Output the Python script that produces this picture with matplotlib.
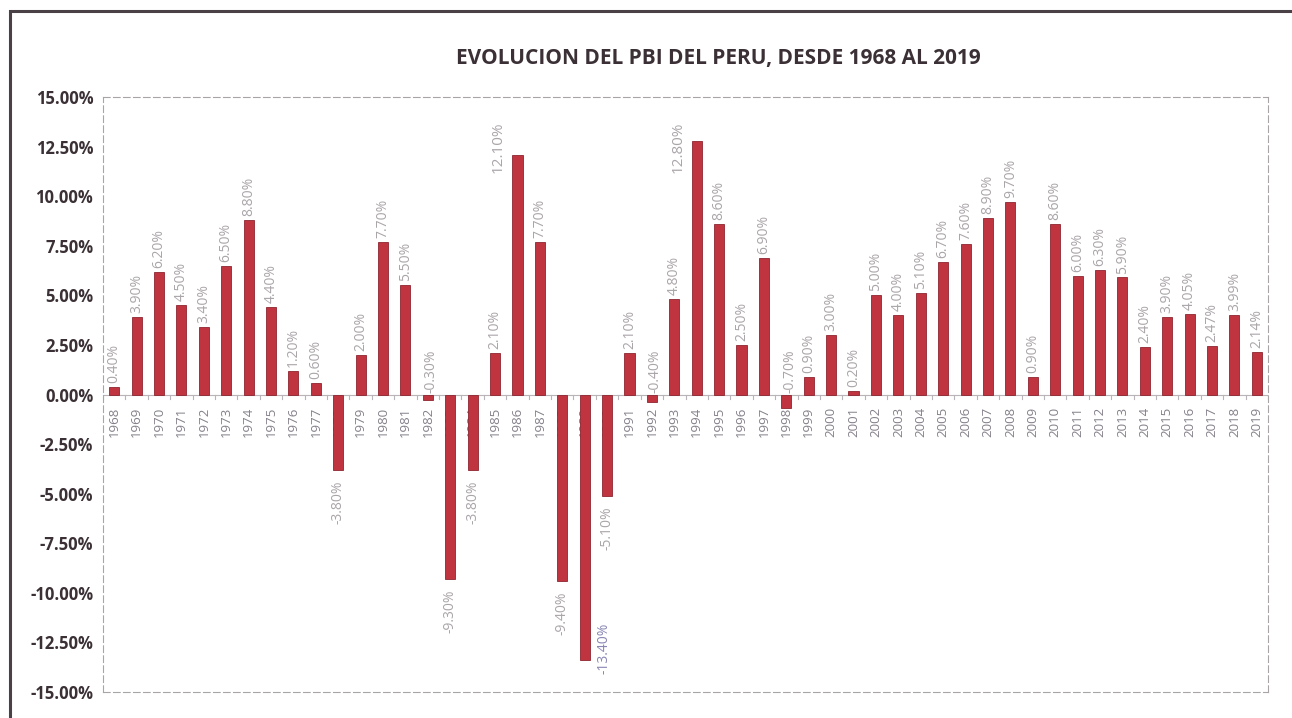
import matplotlib.pyplot as plt
import numpy as np
from matplotlib.patches import Rectangle

years = list(range(1968, 2020))
growth = [0.40, 3.90, 6.20, 4.50, 3.40, 6.50, 8.80, 4.40, 1.20, 0.60,
          -3.80, 2.00, 7.70, 5.50, -0.30, -9.30, -3.80, 2.10, 12.10, 7.70,
          -9.40, -13.40, -5.10, 2.10, -0.40, 4.80, 12.80, 8.60, 2.50, 6.90,
          -0.70, 0.90, 3.00, 0.20, 5.00, 4.00, 5.10, 6.70, 7.60, 8.90,
          9.70, 0.90, 8.60, 6.00, 6.30, 5.90, 2.40, 3.90, 4.05, 2.47,
          3.99, 2.14]
yticks = [-15, -12.5, -10, -7.5, -5, -2.5, 0, 2.5, 5, 7.5, 10, 12.5, 15]
title = "EVOLUCION DEL PBI DEL PERU, DESDE 1968 AL 2019"

plt.rcParams["font.family"] = ["Open Sans", "DejaVu Sans"]

fig = plt.figure(figsize=(12.92, 7.18), dpi=100)
fig.patches.append(Rectangle((0.008, -0.01), 1.0, 0.995, transform=fig.transFigure,
                             fill=False, edgecolor="#4a4146", linewidth=2.2))
ax = fig.add_axes([103 / 1292, 1 - 692 / 718, (1268 - 103) / 1292, (692 - 97) / 718])

x = np.arange(len(years))
ax.bar(x, growth, width=0.45, color="#c0343f", edgecolor="#8e2530", linewidth=0.6, zorder=3)

ax.set_xlim(-0.5, len(years) - 0.5)
ax.set_ylim(-15, 15)
ax.set_yticks(yticks)
ax.set_yticklabels([f"{v:.2f}%" for v in yticks], fontsize=12,
                   fontweight="bold", color="#3a3035")
ax.tick_params(axis="y", length=0, pad=7)
ax.set_xticks([])

for s in ax.spines.values():
    s.set_linestyle((0, (6, 3)))
    s.set_color("#a9a4a7")
    s.set_linewidth(0.8)

# category axis at zero
ax.axhline(0, color="#b9b4b7", linewidth=0.8, zorder=2)
for b in np.arange(-0.5, len(years), 1.0):
    ax.plot([b, b], [0, -0.25], color="#b9b4b7", linewidth=0.8, zorder=2)
for xi, yr in zip(x, years):
    ax.text(xi, -0.6, str(yr), rotation=90, ha="center", va="top",
            fontsize=9.5, color="#85808a", zorder=1)

# data labels
lab_kw = dict(rotation=90, ha="center", fontsize=10, color="#aaa5a9", zorder=4)
for xi, v in zip(x, growth):
    txt = f"{v:.2f}%"
    if v > 12:
        # tallest bars: label moved to the left of the bar, under the top edge
        ax.text(xi - 0.85, 12.45, txt, va="center", **{**lab_kw, "fontsize": 11})
    elif v >= 0:
        ax.text(xi, v + 0.2, txt, va="bottom", **lab_kw)
    elif v > -1:
        # small declines: label sits above the axis, next to the bar
        ax.text(xi + 0.15, 0.1, txt, va="bottom", **lab_kw)
    elif v < -13:
        # deepest decline: label beside the bar so it stays inside the plot
        ax.text(xi + 0.85, v + 0.6, txt, va="center",
                **{**lab_kw, "color": "#8886b4"})
    else:
        ax.text(xi, v - 0.55, txt, va="top", **lab_kw)

fig.text(0.556, 0.919, title, ha="center", va="center", fontsize=15,
         fontweight="bold", color="#3a3035")

fig.savefig("out.png", dpi=100)
plt.close(fig)
